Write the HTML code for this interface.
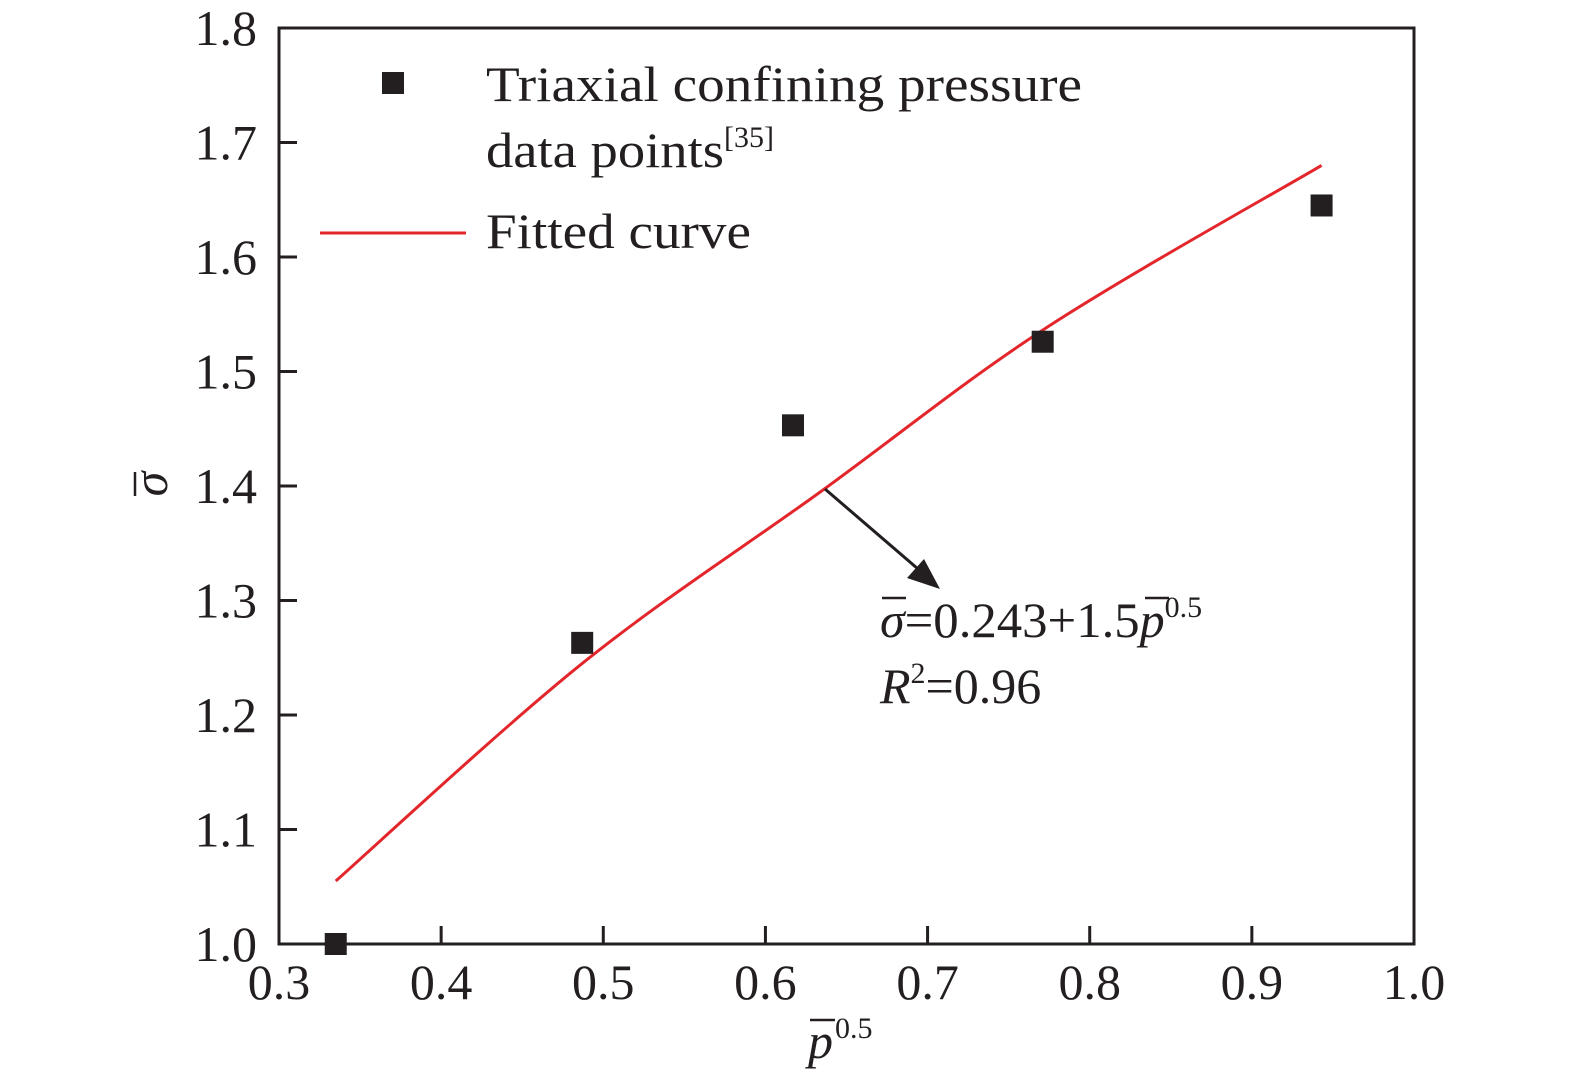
<!DOCTYPE html>
<html><head><meta charset="utf-8"><style>
body{margin:0;background:#fff;}
svg{display:block;font-family:"Liberation Serif",serif;}
</style></head><body>
<svg id="c" width="1575" height="1081" viewBox="0 0 1575 1081"></svg>
<script>
const xTicks=[0.3,0.4,0.5,0.6,0.7,0.8,0.9,1.0];
const yTicks=[1.0,1.1,1.2,1.3,1.4,1.5,1.6,1.7,1.8];
const dataX=[0.335,0.487,0.617,0.771,0.943];
const dataY=[1.0,1.263,1.453,1.526,1.645];
const fitX=[0.335,0.487,0.634,0.773,0.943];
const fitY=[1.055,1.245,1.395,1.538,1.68];
const L=279,R=1414,T=28,B=944;
const sx=v=>L+(v-0.3)/0.7*(R-L);
const sy=v=>B-(v-1.0)/0.8*(B-T);
const svg=document.getElementById('c');
const NS='http://www.w3.org/2000/svg';
function mk(tag,attrs,parent){const e=document.createElementNS(NS,tag);for(const k in attrs)e.setAttribute(k,attrs[k]);(parent||svg).appendChild(e);return e;}
const ink='#231f20';
let frame=mk('rect',{x:L,y:T,width:R-L,height:B-T,fill:'none',stroke:ink,'stroke-width':3});


xTicks.forEach(v=>{
 const t=mk('line',{x1:sx(v),x2:sx(v),y1:B,y2:B-18,stroke:ink,'stroke-width':3});
 
 
 const l=mk('text',{x:sx(v),y:B+55,'text-anchor':'middle','font-size':50,fill:ink});
 l.textContent=v.toFixed(1);
 
 
});
yTicks.forEach(v=>{
 const t=mk('line',{x1:L,x2:L+18,y1:sy(v),y2:sy(v),stroke:ink,'stroke-width':3});
 
 
 const l=mk('text',{x:L-22,y:sy(v)+17,'text-anchor':'end','font-size':50,fill:ink});
 l.textContent=v.toFixed(1);
 
 
});
const P=fitX.map((x,i)=>[sx(x),sy(fitY[i])]);
let d='M'+P[0][0]+','+P[0][1];
for(let i=0;i<P.length-1;i++){
 const p0=P[Math.max(0,i-1)],p1=P[i],p2=P[i+1],p3=P[Math.min(P.length-1,i+2)];
 d+=` C${p1[0]+(p2[0]-p0[0])/6},${p1[1]+(p2[1]-p0[1])/6} ${p2[0]-(p3[0]-p1[0])/6},${p2[1]-(p3[1]-p1[1])/6} ${p2[0]},${p2[1]}`;
}
const curve=mk('path',{d:d,fill:'none',stroke:'#e3262b','stroke-width':3});


dataX.forEach((x,i)=>{
 const r=mk('rect',{x:sx(x)-11,y:sy(dataY[i])-11,width:22,height:22,fill:ink});
 
 
});
</script>
<svg width="1575" height="1081" style="position:absolute;left:0;top:0;font-family:'Liberation Serif',serif">
 <g fill="#231f20" font-size="50">
  <rect x="382" y="72" width="22" height="22"/>
  <text x="486" y="101" textLength="596" lengthAdjust="spacingAndGlyphs">Triaxial confining pressure</text>
  <text x="486" y="167"><tspan textLength="238" lengthAdjust="spacingAndGlyphs">data points</tspan><tspan font-size="30" dy="-20">[35]</tspan></text>
  <line x1="320" y1="233" x2="466" y2="233" stroke="#e3262b" stroke-width="3"/>
  <text x="486" y="248" textLength="265" lengthAdjust="spacingAndGlyphs">Fitted curve</text>
 </g>
 <g fill="#231f20" font-size="50">
  <line x1="825" y1="489" x2="925" y2="575" stroke="#231f20" stroke-width="3"/>
  <polygon points="940,589 907,578 924,559" fill="#231f20"/>
  <text x="880" y="637"><tspan font-style="italic">σ</tspan><tspan textLength="235" lengthAdjust="spacingAndGlyphs">=0.243+1.5</tspan><tspan font-style="italic">p</tspan><tspan font-size="30" dy="-20">0.5</tspan></text>
  <line x1="882" y1="598" x2="906" y2="598" stroke="#231f20" stroke-width="2.5"/>
  <line x1="1145" y1="598" x2="1169" y2="598" stroke="#231f20" stroke-width="2.5"/>
  <text x="880" y="703"><tspan font-style="italic">R</tspan><tspan font-size="30" dy="-20">2</tspan><tspan dy="20">=0.96</tspan></text>
 </g>
 <g fill="#231f20">
  <text x="808" y="1058" font-size="50" font-style="italic">p</text>
  <text x="835" y="1038" font-size="30">0.5</text>
  <line x1="810" y1="1020" x2="835" y2="1020" stroke="#231f20" stroke-width="2.5"/>
 </g>
 <g fill="#231f20" transform="translate(167,484) rotate(-90)">
  <text x="0" y="0" font-size="50" font-style="italic" text-anchor="middle">σ</text>
  <line x1="-12" y1="-32" x2="12" y2="-32" stroke="#231f20" stroke-width="2.5"/>
 </g>
</svg>
</body></html>
